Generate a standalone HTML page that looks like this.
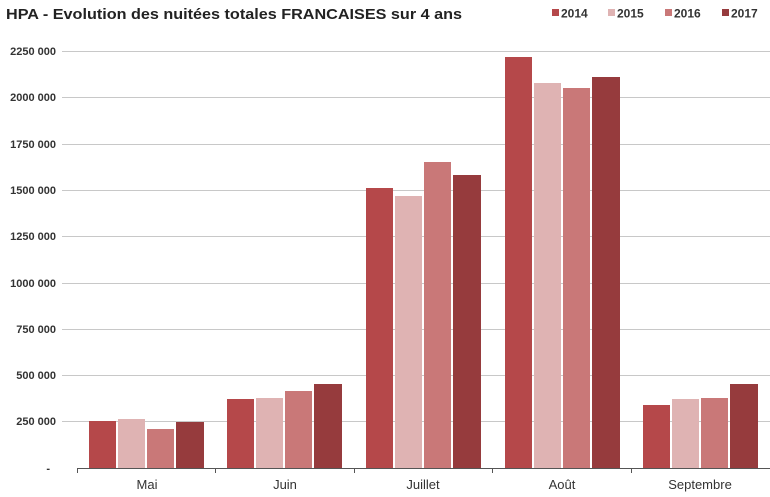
<!DOCTYPE html>
<html><head><meta charset="utf-8"><style>body{margin:0;background:#fff}svg{display:block}</style></head><body>
<svg width="770" height="497" xmlns="http://www.w3.org/2000/svg" font-family="Liberation Sans, Arial, sans-serif">
<text x="6" y="19" font-size="15" font-weight="bold" fill="#222" textLength="456" lengthAdjust="spacingAndGlyphs">HPA - Evolution des nuitées totales FRANCAISES sur 4 ans</text>
<g font-size="12" font-weight="bold" fill="#333">
<rect x="552" y="9" width="7" height="7" fill="#b5484a"/><text x="561" y="17.5">2014</text>
<rect x="608" y="9" width="7" height="7" fill="#dfb3b3"/><text x="617" y="17.5">2015</text>
<rect x="665" y="9" width="7" height="7" fill="#c97878"/><text x="674" y="17.5">2016</text>
<rect x="722" y="9" width="7" height="7" fill="#963b3d"/><text x="731" y="17.5">2017</text>
</g>
<g stroke="#c8c8c8" stroke-width="1">
<line x1="62" x2="770" y1="51.5" y2="51.5"/><line x1="62" x2="770" y1="97.5" y2="97.5"/><line x1="62" x2="770" y1="144.5" y2="144.5"/><line x1="62" x2="770" y1="190.5" y2="190.5"/><line x1="62" x2="770" y1="236.5" y2="236.5"/><line x1="62" x2="770" y1="283.5" y2="283.5"/><line x1="62" x2="770" y1="329.5" y2="329.5"/><line x1="62" x2="770" y1="375.5" y2="375.5"/><line x1="62" x2="770" y1="421.5" y2="421.5"/>
</g>
<g font-size="11" font-weight="bold" fill="#333" text-anchor="end">
<text x="56" y="55">2250 000</text><text x="56" y="101">2000 000</text><text x="56" y="148">1750 000</text><text x="56" y="194">1500 000</text><text x="56" y="240">1250 000</text><text x="56" y="287">1000 000</text><text x="56" y="333">750 000</text><text x="56" y="379">500 000</text><text x="56" y="425">250 000</text><text x="50" y="472">-</text>
</g>
<g>
<rect x="89" y="421" width="27" height="47" fill="#b5484a"/><rect x="118" y="419" width="27" height="49" fill="#dfb3b3"/><rect x="147" y="429" width="27" height="39" fill="#c97878"/><rect x="176" y="422" width="28" height="46" fill="#963b3d"/>
<rect x="227" y="399" width="27" height="69" fill="#b5484a"/><rect x="256" y="398" width="27" height="70" fill="#dfb3b3"/><rect x="285" y="391" width="27" height="77" fill="#c97878"/><rect x="314" y="384" width="28" height="84" fill="#963b3d"/>
<rect x="366" y="188" width="27" height="280" fill="#b5484a"/><rect x="395" y="196" width="27" height="272" fill="#dfb3b3"/><rect x="424" y="162" width="27" height="306" fill="#c97878"/><rect x="453" y="175" width="28" height="293" fill="#963b3d"/>
<rect x="505" y="57" width="27" height="411" fill="#b5484a"/><rect x="534" y="83" width="27" height="385" fill="#dfb3b3"/><rect x="563" y="88" width="27" height="380" fill="#c97878"/><rect x="592" y="77" width="28" height="391" fill="#963b3d"/>
<rect x="643" y="405" width="27" height="63" fill="#b5484a"/><rect x="672" y="399" width="27" height="69" fill="#dfb3b3"/><rect x="701" y="398" width="27" height="70" fill="#c97878"/><rect x="730" y="384" width="28" height="84" fill="#963b3d"/>
</g>
<g stroke="#555" stroke-width="1">
<line x1="77" x2="770" y1="468.5" y2="468.5"/>
<line x1="77.5" x2="77.5" y1="468" y2="473"/><line x1="215.5" x2="215.5" y1="468" y2="473"/><line x1="354.5" x2="354.5" y1="468" y2="473"/><line x1="492.5" x2="492.5" y1="468" y2="473"/><line x1="631.5" x2="631.5" y1="468" y2="473"/>
</g>
<g font-size="13" fill="#333" text-anchor="middle">
<text x="147" y="489">Mai</text><text x="285" y="489">Juin</text><text x="423" y="489">Juillet</text><text x="562" y="489">Août</text><text x="700" y="489">Septembre</text>
</g>
</svg>
</body></html>
